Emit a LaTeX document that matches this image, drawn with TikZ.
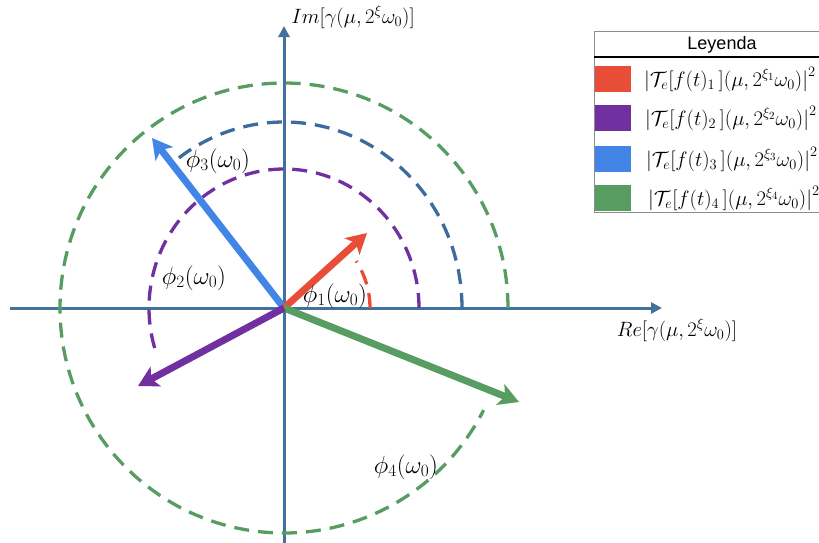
\documentclass[tikz,border=0pt]{standalone}
\usepackage{fontspec}
\setsansfont{Liberation Sans}
\usetikzlibrary{arrows.meta}
\definecolor{axisblue}{RGB}{65,113,156}
\definecolor{cred}{RGB}{232,77,55}
\definecolor{cpurple}{RGB}{112,48,160}
\definecolor{cblue}{RGB}{66,133,230}
\definecolor{cgreen}{RGB}{87,157,98}
\definecolor{cdblue}{RGB}{60,108,158}
\definecolor{lgray}{RGB}{140,140,140}
\tikzset{
  axis/.style={draw=axisblue, line width=3pt, -{Triangle[length=11pt,width=11pt]}},
  arcline/.style={line width=3.3pt, dash pattern=on 15pt off 9pt},
  vec/.style={line width=7pt, -{Stealth[length=20pt,width=22pt,inset=5pt]}},
  lab/.style={font=\fontsize{24}{28}\selectfont, inner sep=0pt},
  axlab/.style={font=\fontsize{21}{25}\selectfont, inner sep=0pt},
  leg/.style={font=\fontsize{22.5}{26}\selectfont, inner sep=0pt, anchor=west},
  swatch/.style={minimum width=36pt, minimum height=26pt, inner sep=0pt, draw=none}
}
\begin{document}
\begin{tikzpicture}[x=1pt,y=-1pt]
\useasboundingbox (0,0) rectangle (819,542);
\clip (0,0) rectangle (819,542);
\fill[white] (0,0) rectangle (819,542);
\coordinate (O) at (284,308);
\coordinate (xl) at (10,308);
\coordinate (xr) at (662,308);
\coordinate (yb) at (284,548);
\coordinate (yt) at (284,26);
\draw[axis] (xl) -- (xr);
\draw[axis] (yb) -- (yt);
% arcs
\draw[arcline, cred] (O) ++(86pt,0pt) arc[start angle=0, end angle=33, radius=86pt];
\draw[arcline, cpurple] (O) ++(135pt,0pt) arc[start angle=0, end angle=200, x radius=135pt, y radius=139pt];
\draw[arcline, cdblue] (O) ++(178pt,0pt) arc[start angle=0, end angle=127, x radius=178pt, y radius=186pt];
\draw[arcline, cgreen] (O) ++(224pt,0pt) arc[start angle=0, end angle=333, x radius=224pt, y radius=225pt];
% vectors
\coordinate (r) at (367,233);
\coordinate (b) at (152,138);
\coordinate (p) at (138,386);
\coordinate (g) at (519,402);
\draw[vec, cblue] (O) -- (b);
\draw[vec, cred] (O) -- (r);
\draw[vec, cgreen] (O) -- (g);
\draw[vec, cpurple] (O) -- (p);
% labels
\node[lab] (l1) at (335,296) {$\phi_1(\omega_0)$};
\node[lab] (l2) at (194,278) {$\phi_2(\omega_0)$};
\node[lab] (l3) at (218,161) {$\phi_3(\omega_0)$};
\node[lab] (l4) at (406,467) {$\phi_4(\omega_0)$};
\node[axlab] (im) at (353,17) {$Im\bigl[\gamma(\mu,2^{\xi}\omega_0)\bigr]$};
\node[axlab] (re) at (677,330) {$Re\bigl[\gamma(\mu,2^{\xi}\omega_0)\bigr]$};
% legend
\draw[lgray, line width=1pt, fill=white] (594,31) rectangle (840,212);
\draw[black, line width=1.3pt] (594,57) -- (840,57);
\node[font=\sffamily\fontsize{18}{21}\selectfont, inner sep=0pt] (hd) at (722,45) {Leyenda};
\node[swatch, fill=cred, anchor=north west] (s1) at (595,66) {};
\node[swatch, fill=cpurple, anchor=north west] (s2) at (595,105) {};
\node[swatch, fill=cblue, anchor=north west] (s3) at (595,146) {};
\node[swatch, fill=cgreen, anchor=north west] (s4) at (595,185) {};
\node[leg] (t1) at (644,79) {$\bigl|\mathcal{T}_e[f(t)_1\,]\bigl(\mu,2^{\xi_1}\omega_0\bigr)\bigr|^2$};
\node[leg] (t2) at (645,118) {$\bigl|\mathcal{T}_e[f(t)_2\,]\bigl(\mu,2^{\xi_2}\omega_0\bigr)\bigr|^2$};
\node[leg] (t3) at (646,159) {$\bigl|\mathcal{T}_e[f(t)_3\,]\bigl(\mu,2^{\xi_3}\omega_0\bigr)\bigr|^2$};
\node[leg] (t4) at (648,198) {$\bigl|\mathcal{T}_e[f(t)_4\,]\bigl(\mu,2^{\xi_4}\omega_0\bigr)\bigr|^2$};
\end{tikzpicture}
\end{document}
